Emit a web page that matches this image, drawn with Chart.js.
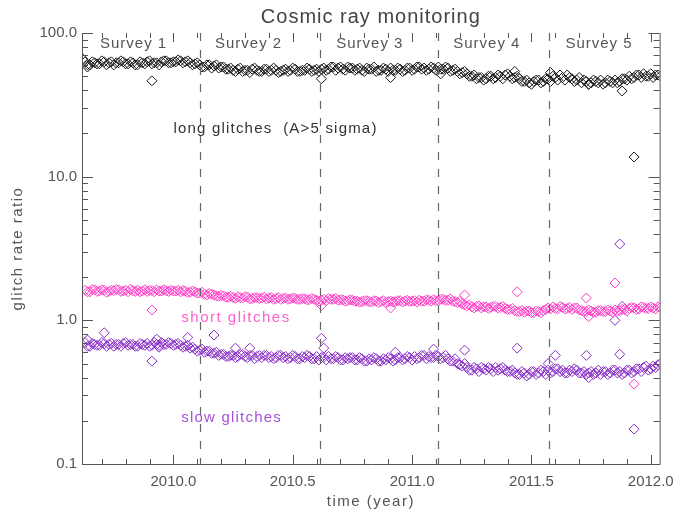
<!DOCTYPE html>
<html>
<head>
<meta charset="utf-8">
<script src="https://cdn.jsdelivr.net/npm/chart.js@4/dist/chart.umd.min.js"></script>
<style>
  html, body { margin: 0; padding: 0; background: #fff; }
  canvas { display: block; }
</style>
</head>
<body>
<canvas id="chart" width="683" height="512"></canvas>
<script>
// sampling of the rate series: samples A at startYear + i*stepYear,
// samples B half a step later
const startYear = 2009.63;
const stepYear = 0.02;

// long glitches (A>5 sigma)
const longRate = [
  63, 60, 62, 61, 63, 62, 60, 62, 63, 61, 62, 60, 62, 63, 61, 62, 63, 64, 62,
  63, 64, 63, 62, 61,
  60, 58, 60, 59, 57, 58, 56,
  55, 56, 54, 55, 56, 55, 54, 56, 55, 55, 54, 56, 55, 56, 54, 55, 56, 55,
  54, 57, 56, 58, 57, 56, 58, 57,
  56, 55, 57, 56, 54, 55, 56, 57, 55, 56, 55, 57, 56, 58, 57, 56, 57, 58,
  56, 57, 55, 54, 53,
  52, 50, 48, 49, 48, 50, 49,
  50, 51, 50, 49, 48,
  46, 45, 46, 47, 46,
  48, 50, 47, 49, 51, 48, 47,
  45, 46, 45, 46, 47, 45, 46, 47, 46, 48,
  50, 49, 51, 52, 50, 49, 51
];
const longRateB = [
  60, 63, 61, 64, 60, 63, 62, 64, 61, 63, 60, 63, 61, 64, 62, 60, 64, 62, 63,
  65, 62, 64, 60, 62,
  58, 60, 57, 60, 58, 56, 57,
  54, 57, 55, 53, 57, 54, 56, 54, 57, 53, 55, 54, 57, 54, 55, 57, 54, 56,
  56, 55, 58, 55, 58, 55, 57, 55,
  57, 54, 56, 58, 55, 57, 54, 55, 57, 54, 57, 55, 58, 56, 55, 58, 55, 56,
  58, 54, 56, 52, 54,
  50, 51, 49, 47, 50, 48, 51,
  48, 52, 48, 50, 46,
  47, 44, 47, 45, 48,
  46, 49, 51, 47, 49, 46, 49,
  47, 44, 47, 45, 44, 47, 45, 45, 48, 47,
  48, 51, 49, 50, 52, 51, 50
];
const longOutYears = [2009.62, 2009.64, 2009.91, 2010.62, 2010.91, 2011.12, 2011.43, 2011.58, 2011.74, 2011.88, 2011.93];
const longOutRate  = [66, 58, 46.5, 48, 49, 52, 54, 53, 44, 39.5, 13.7];

// short glitches
const shortRate = [
  1.62, 1.58, 1.63, 1.60, 1.62, 1.59, 1.61, 1.63, 1.60, 1.58, 1.61, 1.62, 1.60, 1.59, 1.61, 1.63, 1.60, 1.61, 1.62,
  1.60, 1.58, 1.60, 1.57, 1.58,
  1.55, 1.52, 1.54, 1.50, 1.47, 1.48, 1.45,
  1.44, 1.46, 1.43, 1.45, 1.42, 1.44, 1.43, 1.41, 1.44, 1.42, 1.40, 1.43, 1.41, 1.42, 1.40, 1.41, 1.39, 1.40,
  1.36, 1.40, 1.42, 1.40, 1.38, 1.39, 1.37, 1.38,
  1.36, 1.35, 1.37, 1.34, 1.36, 1.35, 1.33, 1.36, 1.35, 1.37, 1.36, 1.35, 1.37, 1.38, 1.36, 1.38, 1.39, 1.37,
  1.40, 1.38, 1.36, 1.33, 1.30,
  1.26, 1.24, 1.25, 1.22, 1.24, 1.23, 1.25,
  1.23, 1.21, 1.19, 1.17, 1.15,
  1.14, 1.16, 1.13, 1.15, 1.17,
  1.22, 1.24, 1.20, 1.23, 1.21, 1.19, 1.22,
  1.17, 1.15, 1.16, 1.14, 1.17, 1.15, 1.16, 1.18, 1.17, 1.19,
  1.21, 1.22, 1.20, 1.23, 1.21, 1.22, 1.24
];
const shortRateB = [
  1.58, 1.64, 1.59, 1.63, 1.57, 1.62, 1.64, 1.59, 1.62, 1.64, 1.59, 1.58, 1.63, 1.61, 1.58, 1.60, 1.63, 1.59, 1.60,
  1.62, 1.61, 1.56, 1.60, 1.55,
  1.57, 1.50, 1.52, 1.48, 1.49, 1.45, 1.47,
  1.42, 1.44, 1.46, 1.41, 1.44, 1.42, 1.45, 1.43, 1.40, 1.44, 1.42, 1.40, 1.43, 1.40, 1.42, 1.39, 1.42, 1.38,
  1.38, 1.37, 1.40, 1.42, 1.39, 1.36, 1.39, 1.36,
  1.34, 1.37, 1.35, 1.37, 1.33, 1.37, 1.35, 1.34, 1.37, 1.34, 1.38, 1.36, 1.34, 1.36, 1.39, 1.36, 1.37, 1.40,
  1.38, 1.41, 1.35, 1.35, 1.28,
  1.28, 1.22, 1.26, 1.24, 1.21, 1.25, 1.22,
  1.25, 1.19, 1.21, 1.15, 1.17,
  1.16, 1.13, 1.16, 1.13, 1.19,
  1.20, 1.21, 1.25, 1.20, 1.23, 1.22, 1.18,
  1.15, 1.18, 1.14, 1.17, 1.15, 1.18, 1.14, 1.16, 1.19, 1.16,
  1.23, 1.19, 1.24, 1.21, 1.24, 1.20, 1.23
];
const shortOutYears = [2009.91, 2010.62, 2010.91, 2011.22, 2011.44, 2011.73, 2011.74, 2011.85, 2011.93];
const shortOutRate  = [1.18, 1.27, 1.22, 1.50, 1.58, 1.43, 1.06, 1.82, 0.36];

// slow glitches
const slowRate = [
  0.70, 0.66, 0.68, 0.67, 0.69, 0.68, 0.66, 0.68, 0.69, 0.67, 0.68, 0.66, 0.68, 0.69, 0.67, 0.68, 0.70, 0.68, 0.69,
  0.68, 0.67, 0.66, 0.64, 0.63,
  0.62, 0.60, 0.61, 0.59, 0.57, 0.58, 0.56,
  0.57, 0.56, 0.58, 0.55, 0.57, 0.56, 0.55, 0.57, 0.56, 0.55, 0.57, 0.56, 0.55, 0.56, 0.54, 0.55, 0.56, 0.54,
  0.53, 0.55, 0.56, 0.54, 0.55, 0.53, 0.54, 0.55,
  0.53, 0.54, 0.52, 0.53, 0.54, 0.52, 0.53, 0.54, 0.53, 0.55, 0.54, 0.55, 0.56, 0.55, 0.57, 0.56, 0.55, 0.56,
  0.55, 0.54, 0.52, 0.50, 0.48,
  0.47, 0.45, 0.46, 0.47, 0.45, 0.46, 0.47,
  0.46, 0.45, 0.44, 0.43, 0.42,
  0.43, 0.42, 0.44, 0.43, 0.44,
  0.45, 0.44, 0.46, 0.45, 0.43, 0.44, 0.45,
  0.43, 0.42, 0.44, 0.43, 0.42, 0.44, 0.43, 0.45, 0.44, 0.43,
  0.45, 0.44, 0.46, 0.47, 0.45, 0.48, 0.49
];
const slowRateB = [
  0.66, 0.69, 0.67, 0.70, 0.66, 0.69, 0.68, 0.66, 0.70, 0.68, 0.66, 0.69, 0.67, 0.66, 0.70, 0.67, 0.68, 0.70, 0.67,
  0.69, 0.65, 0.67, 0.65, 0.61,
  0.63, 0.61, 0.59, 0.60, 0.58, 0.56, 0.57,
  0.55, 0.58, 0.56, 0.57, 0.54, 0.57, 0.57, 0.55, 0.54, 0.57, 0.55, 0.54, 0.57, 0.54, 0.56, 0.57, 0.54, 0.56,
  0.55, 0.53, 0.54, 0.56, 0.53, 0.55, 0.55, 0.53,
  0.55, 0.52, 0.54, 0.55, 0.52, 0.54, 0.55, 0.52, 0.55, 0.53, 0.56, 0.53, 0.54, 0.57, 0.54, 0.55, 0.57, 0.54,
  0.57, 0.52, 0.54, 0.49, 0.50,
  0.45, 0.47, 0.44, 0.46, 0.47, 0.44, 0.45,
  0.47, 0.44, 0.45, 0.42, 0.44,
  0.41, 0.44, 0.42, 0.45, 0.42,
  0.43, 0.46, 0.44, 0.43, 0.45, 0.46, 0.43,
  0.44, 0.43, 0.42, 0.45, 0.44, 0.42, 0.45, 0.43, 0.42, 0.45,
  0.43, 0.46, 0.44, 0.48, 0.46, 0.47, 0.50
];
const slowOutYears = [2009.64, 2009.71, 2009.91, 2009.93, 2009.94, 2010.06, 2010.17, 2010.26, 2010.32, 2010.62, 2010.63,
  2010.93, 2011.09, 2011.22, 2011.44, 2011.57, 2011.60, 2011.73, 2011.74, 2011.85, 2011.87, 2011.87, 2011.88, 2011.93];
const slowOutRate  = [0.73, 0.82, 0.52, 0.74, 0.65, 0.76, 0.79, 0.64, 0.64, 0.75, 0.64,
  0.60, 0.63, 0.62, 0.64, 0.50, 0.57, 0.57, 0.40, 1.0, 3.4, 0.58, 1.25, 0.175];

// surveys
const surveyNames = ['Survey 1', 'Survey 2', 'Survey 3', 'Survey 4', 'Survey 5'];
const surveyCentres = [2009.833, 2010.315, 2010.823, 2011.313, 2011.783];
const surveyBounds = [2010.11, 2010.615, 2011.11, 2011.575];

// axes
const xTicks = [2010.0, 2010.5, 2011.0, 2011.5, 2012.0];
const yTicks = [0.1, 1, 10, 100];
const yTickLabels = ['0.1', '1.0', '10.0', '100.0'];

const FONT = "'Liberation Sans', Arial, sans-serif";
const AXIS = '#555';

function toPoints(valsA, valsB, outYears, outVals) {
  const pts = [];
  valsA.forEach((v, i) => {
    pts.push({ x: startYear + i * stepYear, y: v });
    pts.push({ x: startYear + (i + 0.5) * stepYear, y: valsB[i] });
  });
  outYears.forEach((t, i) => pts.push({ x: t, y: outVals[i] }));
  return pts;
}

function series(label, data, colour) {
  return {
    label: label,
    data: data,
    showLine: false,
    pointStyle: 'rectRot',
    pointRadius: 5,
    pointHoverRadius: 5,
    pointBorderWidth: 1,
    borderColor: colour,
    pointBorderColor: colour,
    backgroundColor: 'rgba(0,0,0,0)',
    pointBackgroundColor: 'rgba(0,0,0,0)'
  };
}

function spacedText(ctx, text, x, y, spacing) {
  ctx.letterSpacing = spacing + 'px';
  ctx.fillText(text, x, y);
  ctx.letterSpacing = '0px';
}

// frame, inward ticks, survey separators, annotations
const decorations = {
  id: 'decorations',
  afterDatasetsDraw(chart) {
    const ctx = chart.ctx;
    const a = chart.chartArea;
    const xs = chart.scales.x, ys = chart.scales.y;
    ctx.save();

    // survey separators
    ctx.strokeStyle = '#666';
    ctx.lineWidth = 1.2;
    ctx.setLineDash([8, 9]);
    surveyBounds.forEach(t => {
      const px = Math.round(xs.getPixelForValue(t)) + 0.5;
      ctx.beginPath();
      ctx.moveTo(px, a.top);
      ctx.lineTo(px, a.bottom);
      ctx.stroke();
    });
    ctx.setLineDash([]);

    // frame
    ctx.strokeStyle = AXIS;
    ctx.lineWidth = 1;
    ctx.beginPath();
    ctx.moveTo(a.left + 0.5, a.top);
    ctx.lineTo(a.left + 0.5, a.bottom + 0.5);
    ctx.lineTo(a.right + 0.5, a.bottom + 0.5);
    ctx.lineTo(a.right + 0.5, a.top);
    ctx.stroke();

    // y ticks (log, both sides)
    ctx.beginPath();
    for (let d = -1; d <= 2; d++) {
      for (let m = 1; m <= 9; m++) {
        const v = m * Math.pow(10, d);
        if (v < 0.1 - 1e-9 || v > 100 + 1e-9) continue;
        const py = Math.round(ys.getPixelForValue(v)) + 0.5;
        const len = m === 1 ? 11 : 6;
        ctx.moveTo(a.left, py); ctx.lineTo(a.left + len, py);
        ctx.moveTo(a.right, py); ctx.lineTo(a.right - len, py);
      }
    }
    // x ticks (bottom and top)
    for (let k = 0; k <= 25; k++) {
      const t = 2009.6 + k * 0.1;
      if (t < xs.min || t > xs.max) continue;
      const px = Math.round(xs.getPixelForValue(t)) + 0.5;
      const major = Math.abs((t * 2) - Math.round(t * 2)) < 1e-6;
      const len = major ? 9 : 5;
      ctx.moveTo(px, a.bottom); ctx.lineTo(px, a.bottom - len);
      ctx.moveTo(px, a.top); ctx.lineTo(px, a.top + len);
    }
    ctx.stroke();

    // texts
    ctx.textBaseline = 'middle';
    ctx.textAlign = 'center';
    ctx.fillStyle = '#444';
    ctx.font = '20px ' + FONT;
    spacedText(ctx, 'Cosmic ray monitoring', (a.left + a.right) / 2, 17, 1);

    ctx.font = '15px ' + FONT;
    ctx.fillStyle = '#555';
    surveyNames.forEach((s, i) => {
      spacedText(ctx, s, xs.getPixelForValue(surveyCentres[i]), a.top + 11, 1);
    });

    spacedText(ctx, 'time (year)', (a.left + a.right) / 2, 502, 1.5);
    ctx.save();
    ctx.translate(18, (a.top + a.bottom) / 2);
    ctx.rotate(-Math.PI / 2);
    spacedText(ctx, 'glitch rate ratio', 0, 0, 1.5);
    ctx.restore();

    ctx.textAlign = 'left';
    ctx.fillStyle = '#333';
    spacedText(ctx, 'long glitches  (A>5 sigma)', xs.getPixelForValue(2010.0), ys.getPixelForValue(21.5), 1.2);
    ctx.fillStyle = '#ff5fcf';
    spacedText(ctx, 'short glitches', xs.getPixelForValue(2010.033), ys.getPixelForValue(1.04), 1.5);
    ctx.fillStyle = '#a452dc';
    spacedText(ctx, 'slow glitches', xs.getPixelForValue(2010.033), ys.getPixelForValue(0.21), 1.2);

    ctx.restore();
  }
};

new Chart(document.getElementById('chart'), {
  type: 'scatter',
  data: {
    datasets: [
      series('long glitches', toPoints(longRate, longRateB, longOutYears, longOutRate), '#1a1a1a'),
      series('short glitches', toPoints(shortRate, shortRateB, shortOutYears, shortOutRate), '#ff3fc8'),
      series('slow glitches', toPoints(slowRate, slowRateB, slowOutYears, slowOutRate), '#8a2ec8')
    ]
  },
  plugins: [decorations],
  options: {
    responsive: false,
    animation: false,
    devicePixelRatio: 1,
    layout: { padding: { left: 0, right: 19, top: 33, bottom: 0 } },
    plugins: {
      legend: { display: false },
      tooltip: { enabled: false },
      title: { display: false }
    },
    scales: {
      x: {
        type: 'linear',
        min: 2009.617,
        max: 2012.037,
        grid: { display: false, drawTicks: false },
        border: { display: false },
        afterBuildTicks: s => { s.ticks = xTicks.map(v => ({ value: v })); },
        afterFit: s => { s.height = 48; },
        ticks: {
          padding: 9,
          color: '#555',
          font: { family: FONT, size: 15 },
          maxRotation: 0,
          callback: v => Number(v).toFixed(1)
        }
      },
      y: {
        type: 'logarithmic',
        min: 0.1,
        max: 100,
        grid: { display: false, drawTicks: false },
        border: { display: false },
        afterBuildTicks: s => { s.ticks = yTicks.map(v => ({ value: v })); },
        afterFit: s => { s.width = 82; },
        ticks: {
          padding: 5,
          color: '#555',
          font: { family: FONT, size: 15 },
          callback: v => yTickLabels[yTicks.indexOf(v)] ?? ''
        }
      }
    }
  }
});
</script>
</body>
</html>
